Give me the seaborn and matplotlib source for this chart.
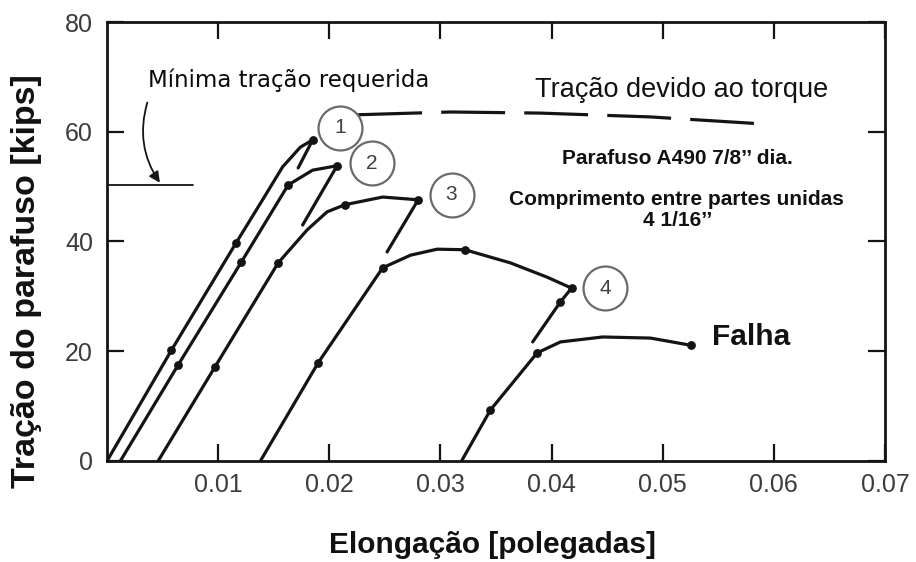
import matplotlib
matplotlib.use("Agg")
import matplotlib.pyplot as plt
import pandas as pd
import seaborn as sns

# Load-elongation curves for A490 7/8" bolts (elongation in inches, load in kips)
c1_x = [0.0, 0.0058, 0.0116, 0.0140, 0.0158, 0.0174, 0.0185]
c1_y = [0.0, 20.2, 39.7, 47.6, 53.6, 57.2, 58.5]
c1_unload_x = [0.0185, 0.0172]
c1_unload_y = [58.5, 53.4]
c1_mark_x = [0.0058, 0.0116, 0.0185]
c1_mark_y = [20.2, 39.7, 58.5]

c2_x = [0.0012, 0.0064, 0.0121, 0.0163, 0.0185, 0.0207]
c2_y = [0.0, 17.5, 36.3, 50.3, 53.0, 53.8]
c2_unload_x = [0.0207, 0.0176]
c2_unload_y = [53.8, 43.0]
c2_mark_x = [0.0064, 0.0121, 0.0163, 0.0207]
c2_mark_y = [17.5, 36.3, 50.3, 53.8]

c3_x = [0.0046, 0.0097, 0.0154, 0.0180, 0.0198, 0.0214, 0.0248, 0.0280]
c3_y = [0.0, 17.1, 36.1, 42.1, 45.4, 46.7, 48.1, 47.6]
c3_unload_x = [0.0280, 0.0252]
c3_unload_y = [47.6, 38.1]
c3_mark_x = [0.0097, 0.0154, 0.0214, 0.0280]
c3_mark_y = [17.1, 36.1, 46.7, 47.6]

c4_x = [0.0138, 0.0190, 0.0248, 0.0273, 0.0297, 0.0322, 0.0363, 0.0396, 0.0418]
c4_y = [0.0, 17.9, 35.2, 37.5, 38.6, 38.5, 36.1, 33.5, 31.5]
c4_unload_x = [0.0418, 0.0408, 0.0383]
c4_unload_y = [31.5, 29.0, 21.7]
c4_mark_x = [0.0190, 0.0248, 0.0322, 0.0418, 0.0408]
c4_mark_y = [17.9, 35.2, 38.5, 31.5, 29.0]

c5_x = [0.0319, 0.0345, 0.0387, 0.0408, 0.0446, 0.0489, 0.0525]
c5_y = [0.0, 9.3, 19.7, 21.7, 22.6, 22.4, 21.1]
c5_mark_x = [0.0345, 0.0387, 0.0525]
c5_mark_y = [9.3, 19.7, 21.1]

# Tension produced by torquing (dashed trend)
torque_x = [0.0226, 0.0309, 0.0390, 0.0489, 0.0592]
torque_y = [63.1, 63.6, 63.4, 62.7, 61.4]

# Minimum required tension
min_tension = 50.3
min_tension_x = [0.0, 0.0077]

# Numbered callouts
callout_labels = ["1", "2", "3", "4"]
callout_x = [0.0210, 0.0238, 0.0310, 0.0448]
callout_y = [60.7, 54.3, 48.5, 31.5]

x_ticks = [0.01, 0.02, 0.03, 0.04, 0.05, 0.06, 0.07]
x_tick_labels = ["0.01", "0.02", "0.03", "0.04", "0.05", "0.06", "0.07"]
y_ticks = [0, 20, 40, 60, 80]
y_tick_labels = ["0", "20", "40", "60", "80"]

sns.set_style("ticks")
plt.rcParams["font.family"] = ["Liberation Sans", "DejaVu Sans"]

W, H = 916, 562
fig = plt.figure(figsize=(W / 100, H / 100), dpi=100)
ax = fig.add_axes([107 / W, (H - 461) / H, 778 / W, 439 / H])

ink = "#141414"
lw = 2.3

curves = [
    (c1_x, c1_y), (c1_unload_x, c1_unload_y),
    (c2_x, c2_y), (c2_unload_x, c2_unload_y),
    (c3_x, c3_y), (c3_unload_x, c3_unload_y),
    (c4_x, c4_y), (c4_unload_x, c4_unload_y),
    (c5_x, c5_y),
]
for cx, cy in curves:
    df = pd.DataFrame({"x": cx, "y": cy})
    sns.lineplot(data=df, x="x", y="y", sort=False, estimator=None,
                 color=ink, lw=lw, ax=ax, solid_capstyle="round",
                 solid_joinstyle="round")

marks = pd.DataFrame({
    "x": c1_mark_x + c2_mark_x + c3_mark_x + c4_mark_x + c5_mark_x,
    "y": c1_mark_y + c2_mark_y + c3_mark_y + c4_mark_y + c5_mark_y,
})
sns.scatterplot(data=marks, x="x", y="y", color=ink, s=40, linewidth=0,
                ax=ax, zorder=4)

# Torque tension dashed line
tq = pd.DataFrame({"x": torque_x, "y": torque_y})
sns.lineplot(data=tq, x="x", y="y", sort=False, estimator=None, color=ink,
             lw=lw, ax=ax, dashes=False)
ax.lines[-1].set_dashes((20, 6))

# Minimum required tension marker line and arrow
sns.lineplot(x=min_tension_x, y=[min_tension, min_tension], color=ink,
             lw=1.3, ax=ax)
ax.annotate("", xy=(0.0049, min_tension), xytext=(0.0037, 65.8),
            arrowprops=dict(arrowstyle="-|>", color=ink, lw=1.3,
                            mutation_scale=16,
                            connectionstyle="arc3,rad=0.25"))

# Callout circles
co = pd.DataFrame({"x": callout_x, "y": callout_y})
sns.scatterplot(data=co, x="x", y="y", s=1000, facecolor="white",
                edgecolor="#6a6a6a", linewidth=1.6, ax=ax, zorder=5)
for lab, x, y in zip(callout_labels, callout_x, callout_y):
    ax.text(x, y, lab, ha="center", va="center", fontsize=15,
            color="#404040", zorder=6)

# Annotations
ax.text(0.0037, 69.4, "Mínima tração requerida", fontsize=16.5,
        family="DejaVu Sans", ha="left", va="center", color="#0a0a0a")
ax.text(0.0517, 67.6, "Tração devido ao torque", fontsize=19.5,
        ha="center", va="center", color="#111111")
ax.text(0.0513, 55.2, "Parafuso A490 7/8\u2019\u2019 dia.", fontsize=15,
        fontweight="bold", ha="center", va="center", color="#111111")
ax.text(0.0512, 47.7, "Comprimento entre partes unidas", fontsize=15,
        fontweight="bold", ha="center", va="center", color="#111111")
ax.text(0.0513, 43.9, "4 1/16\u2019\u2019", fontsize=15,
        fontweight="bold", ha="center", va="center", color="#111111")
ax.text(0.0544, 22.6, "Falha", fontsize=21.5, fontweight="bold",
        ha="left", va="center", color="#111111")

ax.set_xlim(0, 0.07)
ax.set_ylim(0, 80)
ax.set_xticks(x_ticks)
ax.set_xticklabels(x_tick_labels)
ax.set_yticks(y_ticks)
ax.set_yticklabels(y_tick_labels)
ax.tick_params(axis="both", direction="in", length=12, width=1.6,
               color=ink, labelsize=18, labelcolor="#3c3c3c",
               top=True, right=True)
ax.tick_params(axis="x", pad=9)
ax.tick_params(axis="y", pad=10)
for side in ["left", "right", "top", "bottom"]:
    ax.spines[side].set_visible(True)
    ax.spines[side].set_linewidth(2.0)
    ax.spines[side].set_color(ink)

ax.set_xlabel("Elongação [polegadas]", fontsize=21.5, fontweight="bold",
              color="#111111", va="center")
ax.set_ylabel("Tração do parafuso [kips]", fontsize=24.5, fontweight="bold",
              color="#111111", va="center")
ax.xaxis.set_label_coords(0.496, -0.191)
ax.yaxis.set_label_coords(-0.103, 0.41)

fig.savefig("out.png", dpi=100, facecolor="white")
